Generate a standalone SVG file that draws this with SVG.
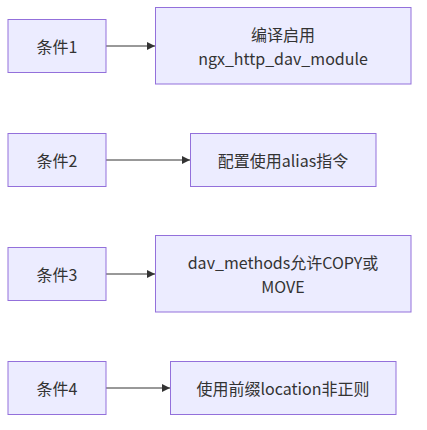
<svg xmlns="http://www.w3.org/2000/svg" width="427" height="430" viewBox="0 0 427 430">
<style>
.node rect{fill:#ECECFF;stroke:#9370DB;stroke-width:1px}
.node text{font-family:"Noto Sans CJK SC",sans-serif;font-size:16px;fill:#333;text-anchor:middle;dominant-baseline:central}
.edge{stroke:#333;stroke-width:1px;fill:none}
</style>
<defs>
<marker id="arr" viewBox="0 0 10 10" refX="10" refY="5" markerWidth="8" markerHeight="8" markerUnits="userSpaceOnUse" orient="auto">
<path d="M0,0 L10,5 L0,10 z" fill="#333"/>
</marker>
</defs>
<rect width="427" height="430" fill="#fff"/>
<g id="edges">
<line class="edge" x1="106" y1="46" x2="155" y2="46" marker-end="url(#arr)"/>
<line class="edge" x1="106" y1="160" x2="190" y2="160" marker-end="url(#arr)"/>
<line class="edge" x1="106" y1="274" x2="155" y2="274" marker-end="url(#arr)"/>
<line class="edge" x1="106" y1="388" x2="170" y2="388" marker-end="url(#arr)"/>
</g>
<g id="c1" class="node"><rect x="8" y="19.5" width="98" height="53"/><text x="57" y="46">条件1</text></g>
<g id="a1" class="node"><rect x="155.5" y="7.5" width="255.5" height="76.5"/><text x="283" y="34">编译启用</text><text x="283" y="58">ngx_http_dav_module</text></g>
<g id="c2" class="node"><rect x="8" y="133.5" width="98" height="53"/><text x="57" y="160">条件2</text></g>
<g id="a2" class="node"><rect x="190.5" y="133.5" width="185.5" height="53"/><text x="283" y="160">配置使用alias指令</text></g>
<g id="c3" class="node"><rect x="8" y="247.5" width="98" height="53"/><text x="57" y="274">条件3</text></g>
<g id="a3" class="node"><rect x="155.5" y="235.5" width="255.5" height="76.5"/><text x="283" y="262">dav_methods允许COPY或</text><text x="283" y="286">MOVE</text></g>
<g id="c4" class="node"><rect x="8" y="361.5" width="98" height="53"/><text x="57" y="388">条件4</text></g>
<g id="a4" class="node"><rect x="170.5" y="361.5" width="225.5" height="53"/><text x="283" y="388">使用前缀location非正则</text></g>
</svg>
